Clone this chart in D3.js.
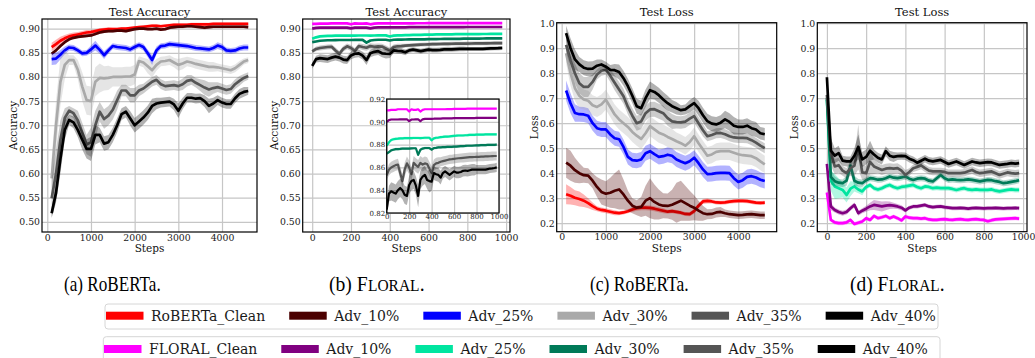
<!DOCTYPE html>
<html><head><meta charset="utf-8">
<script src="https://cdn.jsdelivr.net/npm/d3@7"></script>
<style>body{margin:0;background:#fff}svg{display:block}</style>
</head><body>
<svg id="c" width="1035" height="358"></svg>
<script>
// ---------- categories / ticks ----------
const stepsR = d3.range(100, 4601, 100);      // RoBERTa evaluation steps
const stepsF = d3.range(0, 981, 20);          // FLORAL evaluation steps
const ticksStepsR = [0, 1000, 2000, 3000, 4000];
const ticksStepsF = [0, 200, 400, 600, 800, 1000];
const ticksAcc = [0.50, 0.55, 0.60, 0.65, 0.70, 0.75, 0.80, 0.85, 0.90];
const ticksLoss = [0.2, 0.3, 0.4, 0.5, 0.6, 0.7, 0.8, 0.9, 1.0];
const ticksInsetY = [0.82, 0.84, 0.86, 0.88, 0.90, 0.92];
const namesR = ['RoBERTa_Clean', 'Adv_10%', 'Adv_25%', 'Adv_30%', 'Adv_35%', 'Adv_40%'];
const namesF = ['FLORAL_Clean', 'Adv_10%', 'Adv_25%', 'Adv_30%', 'Adv_35%', 'Adv_40%'];
const colorsR = ['#ff0000', '#4b0000', '#0000ff', '#a9a9a9', '#555555', '#000000'];
const colorsF = ['#ff00ff', '#800080', '#00e5a0', '#007a58', '#555555', '#000000'];

// ---------- (a) RoBERTa test accuracy ----------
const accR_clean = [.862,.868,.875,.880,.884,.886,.888,.890,.892,.893,.895,.897,.898,.899,.899,.899,.900,.900,.901,.902,.903,.904,.905,.906,.906,.905,.906,.907,.908,.908,.908,.908,.909,.909,.909,.909,.909,.910,.910,.910,.910,.910,.910,.910,.910,.910];
const accR_10 = [.848,.855,.864,.872,.878,.881,.883,.884,.885,.886,.889,.892,.894,.895,.895,.896,.896,.895,.897,.899,.900,.900,.899,.899,.900,.898,.899,.902,.903,.904,.904,.905,.905,.904,.903,.902,.903,.904,.904,.904,.904,.904,.904,.904,.904,.903];
const accR_25 = [.837,.838,.846,.855,.861,.860,.855,.849,.850,.857,.865,.856,.845,.855,.864,.862,.861,.860,.857,.862,.866,.862,.849,.835,.855,.864,.865,.868,.867,.866,.865,.864,.862,.860,.859,.858,.857,.860,.865,.862,.855,.854,.855,.859,.861,.861];
const accR_30 = [.59,.70,.79,.825,.835,.835,.815,.78,.752,.75,.79,.798,.797,.798,.80,.80,.80,.801,.801,.805,.833,.83,.822,.814,.825,.832,.833,.835,.83,.825,.828,.832,.83,.827,.825,.823,.821,.821,.82,.818,.816,.814,.818,.825,.832,.835];
const accR_35 = [.549,.60,.67,.715,.73,.725,.71,.685,.66,.665,.70,.728,.713,.72,.732,.752,.772,.772,.762,.762,.772,.776,.783,.79,.794,.785,.781,.782,.783,.781,.785,.792,.794,.788,.783,.778,.774,.777,.779,.776,.773,.775,.785,.792,.798,.802];
const accR_40 = [.518,.56,.63,.69,.711,.706,.69,.67,.651,.651,.68,.68,.662,.665,.68,.70,.723,.728,.714,.70,.708,.716,.726,.74,.745,.747,.748,.749,.743,.73,.745,.757,.757,.755,.756,.75,.74,.745,.752,.747,.744,.744,.756,.765,.769,.771];
const accR_clean_sd = [.009,.009,.008,.007,.006,.006,.005,.005,.005,.004,.004,.004,.004,.004,.003,.003,.003,.003,.003,.003,.003,.003,.003,.003,.003,.003,.003,.003,.003,.003,.003,.003,.003,.003,.003,.003,.003,.003,.003,.003,.003,.003,.003,.003,.003,.003];
const accR_10_sd = 0.003;
const accR_25_sd = [.012,.012,.01,.008,.006,.006,.006,.006,.006,.008,.01,.008,.008,.007,.006,.006,.006,.006,.006,.006,.006,.007,.008,.01,.008,.006,.006,.006,.006,.006,.006,.006,.006,.006,.006,.006,.006,.006,.007,.007,.006,.006,.006,.006,.006,.006];
const accR_30_sd = [.04,.05,.05,.03,.01,.01,.02,.03,.03,.03,.03,.03,.025,.025,.02,.02,.02,.02,.02,.02,.01,.01,.015,.015,.012,.01,.01,.01,.01,.012,.012,.01,.01,.01,.01,.01,.01,.01,.008,.008,.008,.008,.008,.008,.006,.006];
const accR_35_sd = [.04,.05,.04,.02,.01,.01,.02,.02,.02,.03,.03,.02,.02,.02,.02,.02,.012,.012,.015,.015,.012,.01,.01,.01,.01,.01,.01,.01,.01,.01,.012,.012,.01,.01,.012,.015,.015,.012,.01,.01,.01,.01,.01,.01,.008,.008];
const accR_40_sd = [.01,.02,.03,.02,.01,.012,.015,.02,.02,.025,.02,.015,.015,.015,.015,.015,.012,.012,.015,.015,.015,.015,.015,.015,.012,.01,.01,.01,.012,.015,.012,.01,.01,.01,.01,.012,.015,.012,.01,.01,.01,.01,.01,.01,.01,.008];

// ---------- (b) FLORAL test accuracy ----------
const accF_clean = [.910,.910,.9105,.9105,.9105,.911,.911,.911,.911,.911,.909,.911,.9105,.9105,.911,.909,.9105,.911,.911,.911,.911,.911,.911,.911,.911,.911,.911,.9112,.9112,.9112,.9113,.9113,.9113,.9114,.9114,.9114,.9115,.9115,.9115,.9115,.9115,.9115,.9115,.9115,.9115,.9115,.9115,.9115,.9115,.9115];
const accF_10 = [.900,.9015,.902,.902,.902,.902,.9022,.9022,.9022,.9022,.9005,.902,.902,.9022,.9022,.9005,.9022,.9025,.9025,.9025,.9025,.9027,.9027,.9028,.9028,.903,.903,.903,.903,.903,.9032,.9032,.9032,.9032,.9032,.9032,.9032,.9032,.9032,.9032,.9034,.9034,.9034,.9034,.9034,.9034,.9034,.9034,.9034,.9034];
const accF_25 = [.879,.882,.884,.8847,.885,.8852,.8855,.8855,.8856,.8856,.8856,.8857,.8858,.8858,.8858,.8857,.8858,.886,.886,.886,.8838,.8855,.886,.8862,.8865,.8867,.887,.887,.8872,.8875,.8877,.8878,.888,.888,.888,.8882,.8883,.8885,.8885,.8886,.8887,.8887,.8888,.8888,.8889,.8889,.889,.889,.889,.889];
const accF_30 = [.872,.8735,.875,.8755,.876,.876,.8762,.8765,.8765,.8765,.8765,.8767,.8768,.8768,.871,.8755,.8765,.877,.877,.877,.8755,.877,.8772,.8775,.8776,.8777,.8778,.878,.878,.878,.8782,.8783,.8785,.8786,.8787,.8788,.879,.879,.879,.8792,.8793,.8794,.8795,.8795,.8796,.8797,.8797,.8798,.8798,.8799];
const accF_35 = [.853,.858,.860,.861,.862,.8625,.855,.848,.858,.8635,.860,.854,.864,.862,.8605,.864,.8625,.8635,.863,.859,.855,.862,.8635,.864,.865,.8655,.866,.8665,.867,.8672,.8675,.8678,.868,.8682,.8684,.8686,.8688,.869,.869,.8691,.8692,.8693,.8694,.8695,.8696,.8697,.8698,.8699,.870,.870];
const accF_40 = [.823,.837,.839,.838,.837,.840,.842,.840,.836,.835,.8445,.848,.849,.844,.835,.849,.852,.8535,.849,.848,.8475,.855,.854,.8535,.851,.855,.8565,.855,.8535,.855,.8565,.8555,.8555,.856,.857,.8573,.857,.8575,.858,.858,.858,.858,.858,.858,.858,.8585,.859,.8592,.8595,.860];
const accF_clean_sd = 0.0006;
const accF_10_sd = 0.0006;
const accF_25_sd = 0.0012;
const accF_30_sd = 0.0012;
const accF_35_sd = [.004,.005,.005,.005,.005,.005,.006,.006,.006,.006,.006,.006,.006,.006,.006,.006,.006,.006,.006,.006,.006,.005,.005,.005,.004,.004,.004,.004,.004,.004,.004,.004,.004,.004,.004,.004,.004,.004,.004,.004,.004,.004,.004,.004,.004,.004,.004,.004,.004,.004];
const accF_40_sd = [.006,.007,.008,.008,.008,.008,.008,.008,.008,.008,.008,.008,.008,.008,.01,.008,.008,.008,.008,.01,.008,.006,.006,.006,.006,.005,.005,.005,.005,.005,.005,.005,.005,.005,.005,.005,.005,.005,.005,.005,.004,.004,.004,.004,.004,.004,.004,.004,.004,.004];

// ---------- (c) RoBERTa test loss ----------
const lossR_clean = [.316,.31,.302,.297,.29,.28,.268,.258,.253,.25,.246,.242,.24,.243,.248,.255,.26,.262,.262,.261,.258,.254,.25,.246,.248,.245,.242,.237,.236,.248,.27,.287,.289,.287,.283,.282,.283,.286,.288,.289,.289,.288,.285,.282,.281,.282];
const lossR_10 = [.442,.43,.412,.40,.392,.39,.37,.345,.325,.318,.322,.33,.335,.315,.29,.27,.262,.265,.29,.30,.285,.275,.27,.269,.274,.282,.29,.28,.27,.262,.25,.24,.236,.237,.243,.245,.24,.236,.234,.232,.233,.235,.236,.234,.232,.232];
const lossR_25 = [.731,.68,.641,.636,.635,.63,.60,.58,.575,.575,.555,.54,.536,.505,.465,.452,.45,.455,.48,.488,.476,.465,.468,.474,.47,.455,.447,.44,.448,.462,.44,.415,.396,.397,.40,.401,.401,.40,.38,.365,.372,.385,.388,.383,.374,.369];
const lossR_30 = [.88,.80,.74,.71,.695,.69,.672,.665,.675,.694,.665,.635,.615,.60,.585,.565,.55,.537,.56,.588,.575,.562,.555,.545,.537,.528,.52,.51,.525,.548,.52,.495,.47,.475,.485,.488,.488,.488,.482,.476,.472,.47,.468,.46,.447,.435];
const lossR_35 = [.913,.85,.80,.76,.745,.745,.765,.795,.81,.814,.79,.762,.735,.708,.665,.63,.60,.607,.64,.655,.656,.648,.64,.62,.607,.604,.603,.606,.618,.628,.60,.572,.548,.553,.56,.561,.556,.548,.543,.541,.541,.54,.532,.522,.51,.50];
const lossR_40 = [.96,.90,.855,.835,.822,.817,.818,.83,.835,.826,.813,.812,.805,.78,.748,.71,.668,.66,.70,.732,.725,.712,.695,.68,.668,.66,.652,.655,.668,.68,.66,.632,.608,.598,.595,.602,.615,.605,.59,.585,.585,.59,.58,.575,.56,.556];
const lossR_clean_sd = [.04,.035,.03,.03,.025,.02,.015,.01,.01,.01,.01,.01,.008,.008,.008,.01,.01,.01,.01,.01,.01,.01,.01,.008,.008,.008,.008,.008,.008,.01,.01,.01,.01,.008,.008,.008,.008,.008,.008,.008,.008,.008,.008,.008,.008,.008];
const lossR_10_sd = [.06,.06,.05,.04,.03,.03,.03,.04,.05,.05,.06,.07,.08,.06,.04,.03,.03,.04,.06,.08,.07,.06,.05,.05,.06,.08,.08,.07,.06,.05,.04,.03,.02,.02,.02,.02,.015,.015,.015,.015,.015,.015,.015,.015,.015,.015];
const lossR_25_sd = [.04,.04,.035,.03,.03,.03,.03,.03,.03,.03,.03,.03,.03,.03,.03,.03,.03,.03,.03,.03,.03,.03,.03,.03,.03,.03,.03,.03,.03,.03,.03,.03,.03,.03,.03,.03,.03,.03,.03,.03,.03,.03,.03,.03,.03,.03];
const lossR_30_sd = [.04,.05,.05,.05,.04,.04,.04,.04,.04,.04,.04,.04,.04,.04,.04,.04,.04,.04,.04,.04,.04,.04,.04,.04,.04,.035,.035,.035,.035,.035,.035,.035,.035,.035,.035,.035,.035,.035,.035,.035,.035,.035,.035,.035,.035,.035];
const lossR_35_sd = [.03,.03,.04,.04,.04,.04,.03,.02,.02,.02,.025,.03,.03,.03,.03,.03,.03,.03,.03,.03,.03,.03,.03,.03,.03,.025,.025,.025,.025,.025,.025,.025,.02,.02,.02,.02,.02,.02,.02,.02,.02,.02,.02,.02,.02,.02];
const lossR_40_sd = [.03,.04,.04,.03,.03,.03,.03,.025,.02,.02,.02,.025,.03,.03,.03,.03,.03,.03,.035,.035,.03,.03,.03,.03,.025,.025,.02,.02,.025,.025,.03,.03,.03,.03,.03,.03,.035,.035,.035,.03,.03,.03,.03,.03,.025,.025];

// ---------- (d) FLORAL test loss ----------
const lossF_clean = [.323,.213,.203,.20,.20,.203,.213,.197,.202,.207,.22,.213,.229,.22,.224,.229,.22,.227,.22,.211,.227,.222,.22,.22,.218,.22,.215,.213,.213,.215,.216,.214,.213,.215,.216,.214,.213,.215,.216,.214,.213,.208,.212,.215,.216,.217,.218,.219,.22,.218];
const lossF_10 = [.437,.267,.253,.245,.24,.245,.26,.273,.24,.25,.258,.267,.273,.27,.267,.27,.272,.27,.267,.262,.251,.262,.267,.267,.27,.273,.267,.264,.266,.267,.264,.262,.26,.26,.261,.26,.258,.26,.261,.26,.259,.26,.26,.261,.26,.259,.26,.26,.261,.26];
const lossF_25 = [.693,.37,.347,.34,.333,.313,.338,.347,.335,.327,.345,.353,.34,.335,.34,.348,.353,.345,.34,.345,.347,.35,.353,.345,.34,.347,.345,.34,.342,.34,.34,.34,.337,.333,.337,.34,.335,.333,.335,.333,.333,.333,.335,.33,.327,.33,.333,.335,.333,.333];
const lossF_30 = [.70,.385,.368,.362,.36,.37,.43,.37,.362,.36,.372,.38,.378,.374,.375,.38,.387,.382,.38,.383,.387,.378,.373,.378,.38,.378,.37,.367,.38,.393,.38,.373,.375,.373,.372,.373,.375,.373,.37,.367,.37,.373,.372,.368,.365,.36,.362,.365,.368,.372];
const lossF_35 = [.713,.48,.427,.432,.41,.40,.42,.43,.505,.403,.40,.445,.427,.42,.413,.418,.42,.418,.42,.41,.393,.405,.42,.425,.431,.42,.41,.407,.407,.407,.405,.40,.40,.40,.40,.402,.408,.413,.405,.40,.402,.405,.407,.40,.393,.398,.403,.40,.398,.40];
const lossF_40 = [.784,.49,.47,.48,.45,.447,.447,.47,.505,.455,.465,.49,.475,.462,.455,.488,.47,.465,.468,.469,.468,.458,.452,.442,.45,.458,.45,.447,.45,.453,.445,.437,.442,.447,.44,.433,.44,.447,.443,.44,.442,.444,.443,.438,.433,.435,.437,.44,.438,.44];
const lossF_clean_sd = 0.008;
const lossF_10_sd = [.02,.015,.01,.01,.01,.01,.01,.01,.01,.01,.012,.015,.02,.02,.02,.018,.015,.012,.01,.01,.008,.008,.008,.008,.008,.008,.008,.008,.008,.008,.008,.008,.008,.008,.008,.008,.008,.008,.008,.008,.008,.008,.008,.008,.008,.008,.008,.008,.008,.008];
const lossF_25_sd = [.02,.04,.05,.04,.03,.03,.03,.02,.015,.015,.01,.01,.01,.01,.01,.01,.01,.01,.01,.01,.01,.01,.01,.01,.01,.01,.01,.01,.01,.01,.01,.01,.01,.01,.01,.01,.01,.01,.01,.01,.01,.01,.01,.01,.01,.01,.01,.01,.01,.01];
const lossF_30_sd = [.02,.03,.02,.015,.015,.02,.03,.02,.015,.015,.012,.012,.012,.012,.012,.012,.012,.012,.012,.012,.012,.012,.012,.012,.012,.012,.012,.012,.012,.012,.012,.012,.012,.012,.012,.012,.012,.012,.012,.012,.012,.012,.012,.012,.012,.012,.012,.012,.012,.012];
const lossF_35_sd = [.03,.05,.03,.03,.02,.02,.03,.04,.09,.03,.03,.05,.03,.02,.02,.02,.02,.02,.02,.02,.02,.015,.015,.015,.015,.015,.015,.015,.015,.015,.015,.015,.015,.015,.015,.015,.015,.015,.015,.015,.015,.015,.015,.015,.015,.015,.015,.015,.015,.015];
const lossF_40_sd = [.03,.05,.03,.03,.02,.02,.02,.03,.05,.03,.03,.04,.02,.02,.02,.02,.02,.02,.015,.015,.015,.015,.015,.015,.015,.015,.015,.015,.015,.015,.015,.015,.015,.015,.015,.015,.015,.015,.015,.015,.015,.015,.015,.015,.015,.015,.015,.015,.015,.015];

// ---------- drawing ----------
const svg = d3.select('#c');
const SERIF = "'DejaVu Serif', serif";
let clipId = 0;

function mkSeries(vals, sds, colors) {
  return vals.map((v, i) => ({ vals: v, sd: sds[i], color: colors[i] }));
}

function drawSeries(g, series, steps, x, y, lw) {
  series.forEach(s => {
    const sd = i => Array.isArray(s.sd) ? s.sd[i] : s.sd;
    const area = d3.area().x((d, i) => x(steps[i])).y0((d, i) => y(d - sd(i))).y1((d, i) => y(d + sd(i)));
    g.append('path').datum(s.vals).attr('d', area).attr('fill', s.color).attr('fill-opacity', 0.3).attr('stroke', 'none');
    const line = d3.line().x((d, i) => x(steps[i])).y(d => y(d));
    g.append('path').datum(s.vals).attr('d', line).attr('fill', 'none').attr('stroke', s.color)
      .attr('stroke-width', lw).attr('stroke-linejoin', 'round');
  });
}

function grid(L, R, T, B, x, y, xt, yt) {
  const w = R - L, h = B - T;
  const gx = svg.append('g').attr('transform', `translate(0,${B})`)
    .call(d3.axisBottom(x).tickValues(xt).tickSize(-h).tickFormat(''));
  const gy = svg.append('g').attr('transform', `translate(${L},0)`)
    .call(d3.axisLeft(y).tickValues(yt).tickSize(-w).tickFormat(''));
  [gx, gy].forEach(g => {
    g.select('.domain').remove();
    g.selectAll('line').attr('stroke', '#c6c6c6').attr('stroke-width', 1.2);
  });
}

function labels(L, B, x, y, xt, yt, fontSize, yf, pad) {
  const ax = svg.append('g').attr('transform', `translate(0,${B})`)
    .call(d3.axisBottom(x).tickValues(xt).tickSize(0).tickPadding(pad).tickFormat(d3.format('d')));
  const ay = svg.append('g').attr('transform', `translate(${L},0)`)
    .call(d3.axisLeft(y).tickValues(yt).tickSize(0).tickPadding(pad).tickFormat(d3.format(yf)));
  [ax, ay].forEach(g => {
    g.select('.domain').remove();
    g.selectAll('text').attr('font-family', SERIF).attr('font-size', fontSize).attr('fill', '#1a1a1a');
  });
}

function panel(p) {
  const x = d3.scaleLinear().domain(p.xd).range([p.L, p.R]);
  const y = d3.scaleLinear().domain(p.yd).range([p.B, p.T]);
  grid(p.L, p.R, p.T, p.B, x, y, p.xt, p.yt);
  const id = 'clip' + (clipId++);
  svg.append('clipPath').attr('id', id).append('rect')
    .attr('x', p.L).attr('y', p.T).attr('width', p.R - p.L).attr('height', p.B - p.T);
  const g = svg.append('g').attr('clip-path', `url(#${id})`);
  drawSeries(g, p.series, p.steps, x, y, 2.7);
  svg.append('rect').attr('x', p.L).attr('y', p.T).attr('width', p.R - p.L).attr('height', p.B - p.T)
    .attr('fill', 'none').attr('stroke', '#000').attr('stroke-width', 1.2);
  labels(p.L, p.B, x, y, p.xt, p.yt, 9.3, p.yf, 2);
  svg.append('text').attr('x', (p.L + p.R) / 2).attr('y', 16).attr('text-anchor', 'middle')
    .attr('font-family', SERIF).attr('font-size', 11.5).attr('fill', '#111').text(p.title);
  svg.append('text').attr('x', (p.L + p.R) / 2).attr('y', 248).attr('text-anchor', 'middle')
    .attr('dominant-baseline', 'central').attr('font-family', SERIF).attr('font-size', 10.5).attr('fill', '#111').text('Steps');
  svg.append('text').attr('transform', `translate(${p.ylabX},${(p.T + p.B) / 2}) rotate(-90)`)
    .attr('text-anchor', 'middle').attr('dominant-baseline', 'central')
    .attr('font-family', SERIF).attr('font-size', 10.5).attr('fill', '#111').text(p.ylab);
  if (p.inset) {
    const q = p.inset;
    const xi = d3.scaleLinear().domain(q.xd).range([q.L, q.R]);
    const yi = d3.scaleLinear().domain(q.yd).range([q.B, q.T]);
    svg.append('rect').attr('x', q.L).attr('y', q.T).attr('width', q.R - q.L).attr('height', q.B - q.T).attr('fill', '#fff');
    grid(q.L, q.R, q.T, q.B, xi, yi, q.xt, q.yt);
    const id2 = 'clip' + (clipId++);
    svg.append('clipPath').attr('id', id2).append('rect')
      .attr('x', q.L).attr('y', q.T).attr('width', q.R - q.L).attr('height', q.B - q.T);
    const gi = svg.append('g').attr('clip-path', `url(#${id2})`);
    drawSeries(gi, p.series, p.steps, xi, yi, 2.2);
    svg.append('rect').attr('x', q.L).attr('y', q.T).attr('width', q.R - q.L).attr('height', q.B - q.T)
      .attr('fill', 'none').attr('stroke', '#000').attr('stroke-width', 1.2);
    labels(q.L, q.B, xi, yi, q.xt, q.yt, 7, '.2f', 1.5);
  }
}

panel({ L: 42, R: 257, T: 19, B: 232, xd: [-121, 4801], yd: [0.479, 0.92], xt: ticksStepsR, yt: ticksAcc, yf: '.2f',
  title: 'Test Accuracy', ylab: 'Accuracy', ylabX: 13, steps: stepsR,
  series: mkSeries([accR_clean, accR_10, accR_25, accR_30, accR_35, accR_40],
    [accR_clean_sd, accR_10_sd, accR_25_sd, accR_30_sd, accR_35_sd, accR_40_sd], colorsR) });

panel({ L: 302.7, R: 510, T: 19, B: 232, xd: [-49, 1020], yd: [0.479, 0.92], xt: ticksStepsF, yt: ticksAcc, yf: '.2f',
  title: 'Test Accuracy', ylab: 'Accuracy', ylabX: 273.5, steps: stepsF,
  series: mkSeries([accF_clean, accF_10, accF_25, accF_30, accF_35, accF_40],
    [accF_clean_sd, accF_10_sd, accF_25_sd, accF_30_sd, accF_35_sd, accF_40_sd], colorsF),
  inset: { L: 386.7, R: 499, T: 99, B: 213, xd: [0, 1000], yd: [0.82, 0.92], xt: ticksStepsF, yt: ticksInsetY } });

panel({ L: 556.7, R: 776.7, T: 22.7, B: 231.7, xd: [-113, 4870], yd: [0.166, 1.002], xt: ticksStepsR, yt: ticksLoss, yf: '.1f',
  title: 'Test Loss', ylab: 'Loss', ylabX: 533.5, steps: stepsR,
  series: mkSeries([lossR_clean, lossR_10, lossR_25, lossR_30, lossR_35, lossR_40],
    [lossR_clean_sd, lossR_10_sd, lossR_25_sd, lossR_30_sd, lossR_35_sd, lossR_40_sd], colorsR) });

panel({ L: 817.3, R: 1027, T: 22.7, B: 231.7, xd: [-49, 1020], yd: [0.166, 1.002], xt: ticksStepsF, yt: ticksLoss, yf: '.1f',
  title: 'Test Loss', ylab: 'Loss', ylabX: 794, steps: stepsF,
  series: mkSeries([lossF_clean, lossF_10, lossF_25, lossF_30, lossF_35, lossF_40],
    [lossF_clean_sd, lossF_10_sd, lossF_25_sd, lossF_30_sd, lossF_35_sd, lossF_40_sd], colorsF) });

// ---------- sub-captions (separate text pieces, horizontally condensed) ----------
const CAP = "'Liberation Serif', 'Times New Roman', serif";
function caption(x, width, parts) {
  const g = svg.append('g');
  let cx = 0;
  const nodes = parts.map(p => {
    const t = g.append('text').attr('x', cx).attr('y', 0).attr('font-family', CAP).attr('font-size', p[1])
      .attr('fill', '#000').text(p[0]);
    cx += t.node().getComputedTextLength() + 0.3;
    return t;
  });
  const sx = width / cx;
  g.attr('transform', `translate(${x},291) scale(${sx},1)`);
}
caption(64, 97, [['(a) RoBERTa.', 21]]);
caption(329, 96, [['(b) F', 21], ['LORAL', 16.5], ['.', 21]]);
caption(590, 99, [['(c) RoBERTa.', 21]]);
caption(850, 95, [['(d) F', 21], ['LORAL', 16.5], ['.', 21]]);

// ---------- legends ----------
function legendRow(names, colors, box, startX, swY, textY) {
  svg.append('rect').attr('x', box[0]).attr('y', box[1]).attr('width', box[2]).attr('height', box[3])
    .attr('rx', 3).attr('fill', '#fff').attr('stroke', '#d6d6d6').attr('stroke-width', 1);
  let cx = startX;
  names.forEach((n, i) => {
    svg.append('rect').attr('x', cx).attr('y', swY).attr('width', 37.5).attr('height', 8).attr('fill', colors[i]);
    const t = svg.append('text').attr('x', cx + 45).attr('y', textY).attr('dominant-baseline', 'central')
      .attr('font-family', SERIF).attr('font-size', 14).attr('fill', '#1a1a1a').text(n);
    cx += 45 + t.node().getComputedTextLength() + 24;
  });
}
legendRow(namesR, colorsR, [105, 304, 833, 25], 106, 311.7, 316);
legendRow(namesF, colorsF, [103.3, 336.7, 836.7, 26], 104, 345, 348.5);
</script>
</body></html>
